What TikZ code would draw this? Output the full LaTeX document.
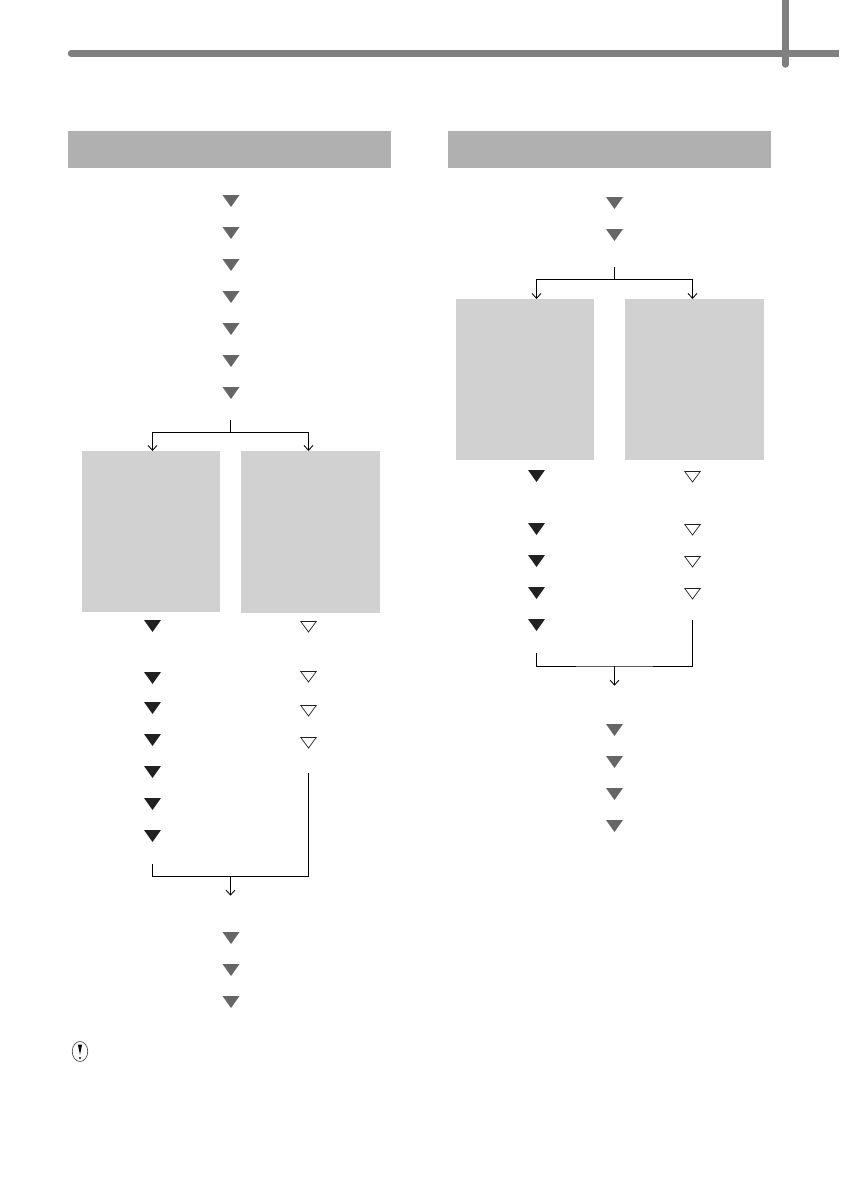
\documentclass[tikz,border=0pt]{standalone}
\usetikzlibrary{shapes.geometric,arrows.meta}
\definecolor{barGray}{gray}{0.5}
\definecolor{headGray}{gray}{0.69}
\definecolor{boxGray}{gray}{0.82}
\definecolor{markGray}{gray}{0.4}
\definecolor{markBlack}{gray}{0.13}
\tikzset{
  mark base/.style={isosceles triangle, isosceles triangle apex angle=68, isosceles triangle stretches,
    shape border rotate=-90, anchor=apex, minimum width=17pt, minimum height=12pt, inner sep=0pt, outer sep=0pt},
  graymark/.style={mark base, fill=markGray},
  blackmark/.style={mark base, fill=markBlack},
  openmark/.style={mark base, draw=markBlack, line width=0.7pt, minimum width=15.5pt, minimum height=10.5pt},
  headbox/.style={fill=headGray},
  stepbox/.style={fill=boxGray, inner sep=0pt, anchor=north west},
  flow/.style={draw=black, line width=0.85pt},
  flowarrow/.style={flow, -{Straight Barb[length=5pt,width=9pt,line width=0.85pt]}}
}
\begin{document}
\begin{tikzpicture}[x=1pt,y=-1pt]
\useasboundingbox (0,0) rectangle (841,1191);
% Page rules
\draw[barGray, line width=6.5pt, line cap=round] (71,53.3) -- (100,53.3);
\draw[barGray, line width=6.5pt] (100,53.3) -- (839,53.3);
\draw[barGray, line width=6.5pt, line cap=round] (785.5,-5) -- (785.5,64.5);
% Headers
\fill[headbox] (68,131) rectangle (391,168);
\fill[headbox] (448,131) rectangle (771,168);
% Left column
\foreach \y [count=\i] in {207,239,271,303,335,367,399}
  \node[graymark] (la\i) at (231,\y) {};
\foreach \y [count=\i] in {944,976,1008}
  \node[graymark] (lc\i) at (231,\y) {};
\node[stepbox, minimum width=138pt, minimum height=161pt] (lboxa) at (82,451) {};
\node[stepbox, minimum width=138.7pt, minimum height=162pt] (lboxb) at (241,451) {};
\foreach \y [count=\i] in {632,684,714,746,778,810,842}
  \node[blackmark] (lb\i) at (152.5,\y) {};
\foreach \y [count=\i] in {632,682,716,748}
  \node[openmark] (lo\i) at (308.5,\y) {};
\coordinate (lsplit) at (230.5,420);
\coordinate (lsplitm) at (230.5,432.3);
\draw[flow] (lsplit) -- (lsplitm);
\draw[flowarrow] (lsplitm) -| (lb1 |- lboxa.north);
\draw[flowarrow] (lsplitm) -| (lo1 |- lboxb.north);
\coordinate (ljoina) at (152.5,864);
\coordinate (ljoinb) at (308.5,773);
\coordinate (ljoinm) at (230.5,876.3);
\coordinate (ljoinend) at (230.5,895.7);
\draw[flow] (ljoina) |- (ljoinm) -| (ljoinb);
\draw[flowarrow] (ljoinm) -- (ljoinend);
% Right column
\foreach \y [count=\i] in {209,241}
  \node[graymark] (ra\i) at (614.5,\y) {};
\node[stepbox, minimum width=138pt, minimum height=160.7pt] (rboxa) at (456,299) {};
\node[stepbox, minimum width=138.7pt, minimum height=160.7pt] (rboxb) at (625,299) {};
\foreach \y [count=\i] in {482,535,567,599,631}
  \node[blackmark] (rb\i) at (536.5,\y) {};
\foreach \y [count=\i] in {482,535,567,599}
  \node[openmark] (ro\i) at (692.5,\y) {};
\coordinate (rsplit) at (614.5,267.3);
\coordinate (rsplitm) at (614.5,279.3);
\draw[flow] (rsplit) -- (rsplitm);
\draw[flowarrow] (rsplitm) -| (rb1 |- rboxa.north);
\draw[flowarrow] (rsplitm) -| (ro1 |- rboxb.north);
\coordinate (rjoina) at (536.5,653.3);
\coordinate (rjoinb) at (692.5,620);
\coordinate (rjoinm) at (614.5,666);
\coordinate (rjoinend) at (614.5,685.7);
\draw[flow] (rjoina) |- (rjoinm) -| (rjoinb);
\draw[flowarrow] (rjoinm) -- (rjoinend);
\foreach \y [count=\i] in {736,768,800,832}
  \node[graymark] (rc\i) at (614.5,\y) {};
% Note icon
\node[ellipse, draw=black!70, line width=0.7pt, minimum width=15.5pt, minimum height=20pt, inner sep=0pt] (noteicon) at (80,1051.5) {};
\node[isosceles triangle, isosceles triangle apex angle=24, shape border rotate=-90, anchor=apex, fill=black, minimum height=10pt, inner sep=0pt] (notebar) at (80,1055.5) {};
\node[circle, fill=black, minimum size=2.2pt, inner sep=0pt] (notedot) at (80,1058) {};
\end{tikzpicture}
\end{document}
